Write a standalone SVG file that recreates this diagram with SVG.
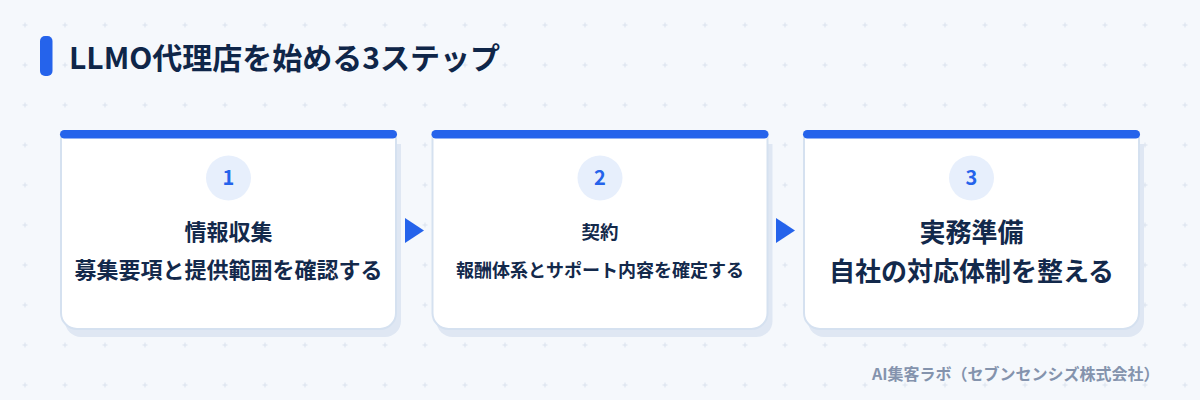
<svg xmlns="http://www.w3.org/2000/svg" width="1200" height="400" viewBox="0 0 1200 400">
<style>
text { font-family: "Noto Sans CJK JP", "Noto Sans", sans-serif; font-weight: 700; }
.ttl { font-size: 30px; fill: #0f2649; }
.t { fill: #13294b; text-anchor: middle; }
.num { font-size: 20px; fill: #2563eb; text-anchor: middle; }
.badge { fill: #e7effc; }
.card { fill: #ffffff; stroke: #d5e1f0; stroke-width: 2; }
.shadow { fill: #dfe7f3; }
.bar { fill: #2563eb; }
.arrow { fill: #2563eb; }
.foot { font-size: 16px; fill: #8493ad; }
</style>
<defs>
<pattern id="grid" patternUnits="userSpaceOnUse" x="5" y="5" width="40" height="40">
<path d="M17.5 20h5M20 17.5v5" stroke="#dae2ee" stroke-width="1"/>
</pattern>
</defs>
<rect width="1200" height="400" fill="#f5f8fc"/>
<rect width="1200" height="400" fill="url(#grid)"/>

<g id="title">
<rect x="40" y="36" width="12.5" height="40" rx="5" fill="#2563eb"/>
<text class="ttl" x="69" y="69">LLMO代理店を始める3ステップ</text>
</g>

<g id="step1">
<path class="shadow" d="M66 136h336v177a16 16 0 0 1-16 16H82a16 16 0 0 1-16-16z" transform="translate(0,8) translate(-1,0)"/>
<path class="card" d="M61 133h335v180a16 16 0 0 1-16 16H77a16 16 0 0 1-16-16z"/>
<rect class="bar" x="60" y="130" width="337" height="8.5" rx="4.25"/>
<circle class="badge" cx="228.5" cy="178" r="22.5"/>
<text class="num" x="228.5" y="185.3">1</text>
<text class="t" x="228.5" y="239.5" font-size="22">情報収集</text>
<text class="t" x="228.5" y="278" font-size="22">募集要項と提供範囲を確認する</text>
</g>

<g id="step2">
<path class="shadow" d="M437.5 136h336v177a16 16 0 0 1-16 16h-304a16 16 0 0 1-16-16z" transform="translate(-1,8)"/>
<path class="card" d="M432.5 133h335v180a16 16 0 0 1-16 16h-303a16 16 0 0 1-16-16z"/>
<rect class="bar" x="431.5" y="130" width="337" height="8.5" rx="4.25"/>
<circle class="badge" cx="600" cy="178" r="22.5"/>
<text class="num" x="600" y="185.3">2</text>
<text class="t" x="600" y="238.5" font-size="18.5">契約</text>
<text class="t" x="600" y="277" font-size="18">報酬体系とサポート内容を確定する</text>
</g>

<g id="step3">
<path class="shadow" d="M809 136h336v177a16 16 0 0 1-16 16h-304a16 16 0 0 1-16-16z" transform="translate(-1,8)"/>
<path class="card" d="M804 133h335v180a16 16 0 0 1-16 16h-303a16 16 0 0 1-16-16z"/>
<rect class="bar" x="803" y="130" width="337" height="8.5" rx="4.25"/>
<circle class="badge" cx="971.5" cy="178" r="22.5"/>
<text class="num" x="971.5" y="185.3">3</text>
<text class="t" x="971.5" y="242" font-size="26">実務準備</text>
<text class="t" x="971.5" y="281" font-size="26">自社の対応体制を整える</text>
</g>

<g id="connectors">
<polygon class="arrow" points="405,218 424,230.5 405,243"/>
<polygon class="arrow" points="776,218 795,230.5 776,243"/>
</g>

<g id="footer">
<text class="foot" x="872" y="380">AI集客ラボ（セブンセンシズ株式会社）</text>
</g>
</svg>
